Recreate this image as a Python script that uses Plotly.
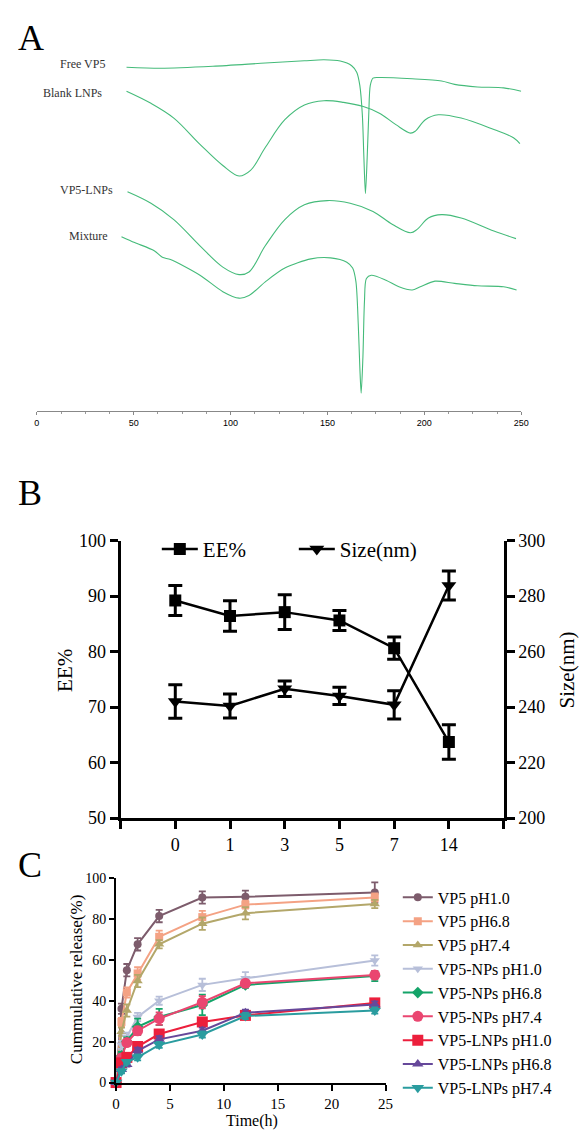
import plotly.graph_objects as go

W, H = 588, 1140
def px(x): return x / W
def py(y): return 1 - y / H

SERIF = "Liberation Serif"
SANS = "Liberation Sans"

# ---------------- Panel A: DSC thermograms ----------------
free_T = [46.3, 63.9, 90.9, 117.9, 138.1, 148.2, 156.6, 162.5, 165.1, 166.7, 168.0, 168.8,
          169.6, 170.5, 171.3, 172.1, 173.5, 176.8, 193.7, 208.9, 215.6, 227.4, 240.9, 250.0]
free_HF = [349.7, 348.7, 350.7, 354.0, 356.3, 357.3, 356.0, 351.3, 344.7, 331.3, 301.3, 258.0,
           221.3, 258.0, 301.3, 331.3, 338.7, 339.3, 338.0, 335.7, 332.3, 329.7, 328.7, 325.3]

blank_T = [46.3, 58.9, 70.7, 84.2, 96.0, 104.4, 110.3, 117.9, 128.0, 138.1, 148.2, 158.3,
           168.5, 176.8, 185.3, 192.9, 195.4, 200.5, 207.2, 219.0, 235.9, 246.0, 249.3]
blank_HF = [325.3, 313.0, 298.0, 271.3, 249.7, 239.0, 244.7, 268.0, 296.3, 311.3, 315.7, 314.0,
            309.7, 303.0, 291.3, 282.7, 284.7, 296.3, 301.3, 298.0, 286.3, 278.0, 272.0]

lnp_T = [46.8, 58.9, 70.7, 84.2, 96.0, 104.4, 109.5, 117.9, 128.0, 138.1, 149.9, 161.7,
         173.5, 183.6, 192.9, 196.3, 202.1, 208.9, 219.0, 235.9, 247.3]
lnp_HF = [223.0, 211.3, 194.7, 168.0, 146.3, 138.7, 141.3, 168.0, 194.7, 209.7, 214.0, 211.3,
          203.0, 189.7, 181.3, 184.7, 196.3, 199.7, 196.3, 183.0, 175.3]

mix_T = [43.7, 50.5, 60.6, 64.8, 69.0, 84.2, 96.0, 104.4, 109.5, 117.9, 128.0, 141.5, 151.6,
         160.0, 163.0, 164.7, 165.9, 166.7, 167.4, 168.3, 169.1, 170.1, 172.6, 180.2, 186.9,
         193.7, 197.9, 205.5, 215.6, 227.4, 240.9, 247.6]
mix_HF = [177.3, 171.3, 163.0, 156.3, 154.0, 138.0, 121.3, 114.7, 117.3, 131.3, 145.3, 154.7,
          155.7, 151.3, 145.3, 131.3, 88.0, 44.7, 18.0, 54.7, 111.3, 134.7, 138.0, 133.0, 126.3,
          123.0, 126.3, 132.0, 129.7, 127.3, 126.3, 123.0]

dsc_names = ["Free VP5", "Blank LNPs", "VP5-LNPs", "Mixture"]
temp_ticks = [0, 50, 100, 150, 200, 250]

# ---------------- Panel B: stability ----------------
days = ["0", "1", "3", "5", "7", "14"]
ee = [89.2, 86.4, 87.1, 85.6, 80.6, 63.7]
ee_err = [2.7, 2.75, 3.15, 1.8, 2.0, 3.1]
size_nm = [242.0, 240.4, 246.6, 244.0, 240.8, 283.8]
size_err = [6.0, 4.3, 2.8, 3.1, 5.1, 5.2]

# ---------------- Panel C: release ----------------
time_h = [0, 0.5, 1, 2, 4, 8, 12, 24]
release = {
    "VP5 pH1.0":       [0, 36.0, 54.9, 67.5, 81.3, 90.4, 90.7, 92.8],
    "VP5 pH6.8":       [0, 29.6, 44.0, 53.3, 71.2, 80.8, 86.9, 90.4],
    "VP5 pH7.4":       [0, 24.8, 35.2, 49.6, 67.5, 77.6, 82.7, 87.2],
    "VP5-NPs pH1.0":   [0, 18.4, 22.4, 32.0, 40.0, 47.7, 50.9, 59.6],
    "VP5-NPs pH6.8":   [0, 13.0, 20.0, 27.2, 32.0, 37.9, 47.7, 52.0],
    "VP5-NPs pH7.4":   [0, 12.0, 19.5, 25.3, 31.2, 39.2, 48.5, 52.5],
    "VP5-LNPs pH1.0":  [0, 9.6, 12.3, 17.6, 23.7, 29.6, 32.8, 38.9],
    "VP5-LNPs pH6.8":  [0, 6.4, 8.8, 15.5, 21.1, 25.3, 34.1, 38.1],
    "VP5-LNPs pH7.4":  [0, 5.5, 10.1, 12.3, 18.4, 23.5, 32.5, 35.2],
}
release_err = {
    "VP5 pH1.0":       [0, 2.5, 3.0, 3.0, 3.0, 3.0, 3.0, 5.0],
    "VP5 pH6.8":       [0, 2.0, 2.5, 3.0, 3.0, 3.0, 2.0, 2.0],
    "VP5 pH7.4":       [0, 2.0, 3.0, 3.0, 2.0, 3.0, 3.0, 2.0],
    "VP5-NPs pH1.0":   [0, 2.0, 2.0, 2.0, 2.0, 3.0, 3.0, 2.5],
    "VP5-NPs pH6.8":   [0, 2.0, 2.0, 4.0, 4.0, 5.0, 1.5, 2.5],
    "VP5-NPs pH7.4":   [0, 1.5, 1.5, 2.0, 3.0, 3.0, 1.5, 2.0],
    "VP5-LNPs pH1.0":  [0, 1.5, 1.5, 1.5, 2.0, 2.0, 1.5, 1.5],
    "VP5-LNPs pH6.8":  [0, 1.0, 1.0, 1.5, 1.5, 1.5, 1.5, 1.5],
    "VP5-LNPs pH7.4":  [0, 1.0, 1.0, 1.5, 1.5, 1.5, 1.5, 1.5],
}
colors = ["#7d5c6c", "#f4a284", "#b3a76a", "#b7bfd9", "#14a469",
          "#ea4670", "#ec1f3c", "#66489a", "#2a9c9f"]
symbols = ["circle", "square", "triangle-up", "triangle-down", "diamond",
           "circle", "square", "triangle-up", "triangle-down"]
msizes = [8, 8, 9, 9, 9, 11, 11, 10, 11]

fig = go.Figure()

# Panel A traces
GREEN = "#45bb7a"
for T, HF, sm in [(free_T, free_HF, 0.8), (blank_T, blank_HF, 1.0),
                  (lnp_T, lnp_HF, 1.0), (mix_T, mix_HF, 0.8)]:
    fig.add_trace(go.Scatter(x=T, y=HF, mode="lines", xaxis="x", yaxis="y",
                             line=dict(color=GREEN, width=1.1, shape="spline", smoothing=sm),
                             showlegend=False, hoverinfo="skip"))

# Panel B traces
xpos = list(range(1, len(days) + 1))
fig.add_trace(go.Scatter(x=xpos, y=ee, mode="lines+markers", name="EE%", xaxis="x2", yaxis="y2",
                         line=dict(color="black", width=2.5),
                         marker=dict(symbol="square", size=12, color="black"),
                         error_y=dict(type="data", array=ee_err, color="black", thickness=3, width=7),
                         legend="legend2", cliponaxis=False))
fig.add_trace(go.Scatter(x=xpos, y=size_nm, mode="lines+markers", name="Size(nm)", xaxis="x2", yaxis="y3",
                         line=dict(color="black", width=2.5),
                         marker=dict(symbol="triangle-down", size=13, color="black"),
                         error_y=dict(type="data", array=size_err, color="black", thickness=3, width=7),
                         legend="legend2", cliponaxis=False))

# Panel C traces
for i, (name, vals) in enumerate(release.items()):
    fig.add_trace(go.Scatter(x=time_h, y=vals, mode="lines+markers", name=name,
                             xaxis="x3", yaxis="y4",
                             line=dict(color=colors[i], width=2),
                             marker=dict(symbol=symbols[i], size=msizes[i], color=colors[i]),
                             error_y=dict(type="data", array=release_err[name], color=colors[i],
                                          thickness=1.8, width=3.5),
                             legend="legend", legendgroup=name, cliponaxis=False))

b_tickvals = [0] + xpos + [len(days) + 1]
b_ticktext = [""] + days + [""]

layout = dict(
    width=W, height=H, margin=dict(l=0, r=0, t=0, b=0),
    paper_bgcolor="white", plot_bgcolor="white", showlegend=True,
    # Panel A axes
    xaxis=dict(domain=[px(33.5), px(528)], range=[0, 250], anchor="y",
               tickvals=temp_ticks, ticks="outside", ticklen=3, tickcolor="#888",
               minor=dict(dtick=12.5, ticks="outside", ticklen=2, tickcolor="#999"),
               showline=True, linecolor="#888", linewidth=1, showgrid=False, zeroline=False,
               tickfont=dict(family=SANS, size=9, color="black")),
    yaxis=dict(domain=[py(408), py(40)], range=[0, 368], visible=False),
    # Panel B axes
    xaxis2=dict(domain=[px(119), px(510)], range=[0, 7], anchor="y2",
                tickvals=b_tickvals, ticktext=b_ticktext, ticks="outside", ticklen=8, tickwidth=2.5,
                tickcolor="black", showline=True, linecolor="black", linewidth=3,
                showgrid=False, zeroline=False,
                tickfont=dict(family=SERIF, size=18, color="black")),
    yaxis2=dict(domain=[py(822.5), py(540)], range=[50, 100], anchor="x2",
                dtick=10, ticks="outside", ticklen=8, tickwidth=2.5, tickcolor="black",
                showline=True, linecolor="black", linewidth=3, showgrid=False, zeroline=False,
                tickfont=dict(family=SERIF, size=18, color="black")),
    yaxis3=dict(domain=[py(822.5), py(540)], range=[200, 300], anchor="x2", overlaying="y2",
                side="right", dtick=20, ticks="outside", ticklen=8, tickwidth=2.5,
                tickcolor="black", showline=True, linecolor="black", linewidth=3,
                showgrid=False, zeroline=False,
                tickfont=dict(family=SERIF, size=18, color="black")),
    # Panel C axes
    xaxis3=dict(domain=[px(114.4), px(389.5)], range=[0, 25], anchor="y4",
                dtick=5, ticks="outside", ticklen=6, tickwidth=2, tickcolor="black",
                showline=True, linecolor="black", linewidth=2, showgrid=False, zeroline=False,
                tickfont=dict(family=SERIF, size=15, color="black")),
    yaxis4=dict(domain=[py(1091.7), py(883.3)], range=[0, 100], anchor="x3",
                dtick=20, ticks="outside", ticklen=5, tickwidth=2, tickcolor="black",
                showline=True, linecolor="black", linewidth=2, showgrid=False, zeroline=False,
                tickfont=dict(family=SERIF, size=14, color="black")),
    legend=dict(x=px(402), y=py(886), xanchor="left", yanchor="top",
                font=dict(family=SERIF, size=16, color="black"),
                traceorder="grouped", tracegroupgap=0, itemwidth=30,
                bgcolor="rgba(0,0,0,0)"),
    legend2=dict(x=px(156), y=py(549), xanchor="left", yanchor="middle", orientation="h",
                 font=dict(family=SERIF, size=21, color="black"),
                 entrywidth=86, entrywidthmode="pixels", itemwidth=36,
                 bgcolor="rgba(0,0,0,0)"),
)
fig.update_layout(**layout)

ann = []
# panel letters
for letter, x, y in [("A", 12, 28), ("B", 12, 492), ("C", 12, 870)]:
    ann.append(dict(text=letter, x=px(x), y=py(y), xref="paper", yref="paper",
                    xanchor="left", yanchor="middle", showarrow=False,
                    font=dict(family=SERIF, size=36, color="black")))
# DSC curve labels
for name, x, y in zip(dsc_names, [55, 37.3, 55, 64], [54.5, 84, 183.5, 230.5]):
    ann.append(dict(text=name, x=px(x), y=py(y), xref="paper", yref="paper",
                    xanchor="left", yanchor="middle", showarrow=False,
                    font=dict(family=SERIF, size=12, color="#333")))
# axis titles
for text, x, y, ang, size in [("EE%", 62, 672, -90, 21), ("Size(nm)", 575, 672, -90, 21),
                              ("Cummulative release(%)", 74, 987, -90, 17),
                              ("Time(h)", 253, 1131, 0, 16)]:
    ann.append(dict(text=text, x=px(x), y=py(y), xref="paper", yref="paper", textangle=ang,
                    xanchor="center", yanchor="middle", showarrow=False,
                    font=dict(family=SERIF, size=size, color="black")))
fig.update_layout(annotations=ann)

fig.write_html("out.html", config={"displayModeBar": False},
               post_script="document.body.style.margin='0';document.body.style.overflow='hidden';")
